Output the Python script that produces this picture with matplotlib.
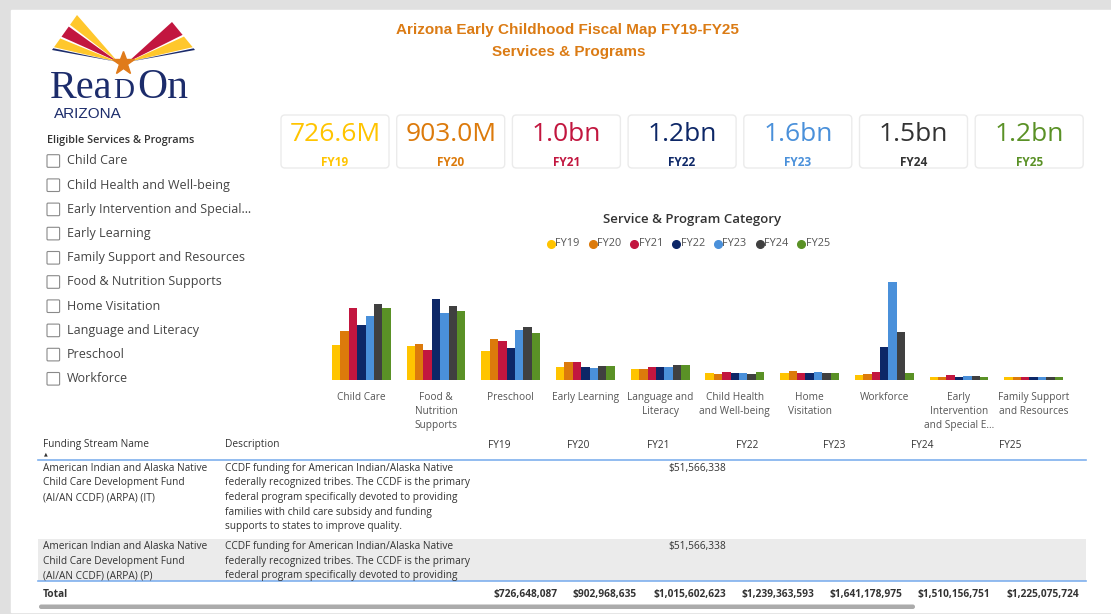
import matplotlib
matplotlib.use("Agg")
import matplotlib.pyplot as plt
from matplotlib.patches import Rectangle, FancyBboxPatch, Polygon
import numpy as np

plt.rcParams["font.family"] = ["Open Sans", "DejaVu Sans"]

# ---- data ----
categories = ["Child Care", "Food &\nNutrition\nSupports", "Preschool", "Early Learning",
              "Language and\nLiteracy", "Child Health\nand Well-being", "Home\nVisitation",
              "Workforce", "Early\nIntervention\nand Special E...", "Family Support\nand Resources"]
fy_labels = ["FY19", "FY20", "FY21", "FY22", "FY23", "FY24", "FY25"]
# spending by category, $ millions
fy19 = [176, 173, 149, 63, 56, 32, 31, 24, 15, 12]
fy20 = [248, 181, 207, 91, 55, 27, 43, 27, 15, 12]
fy21 = [369, 150, 200, 92, 63, 38, 34, 41, 22, 12]
fy22 = [279, 414, 161, 63, 65, 34, 32, 168, 12, 12]
fy23 = [325, 342, 255, 58, 63, 31, 36, 499, 17, 12]
fy24 = [390, 376, 270, 67, 74, 26, 31, 245, 19, 12]
fy25 = [368, 351, 239, 68, 74, 38, 31, 32, 15, 12]
series = [fy19, fy20, fy21, fy22, fy23, fy24, fy25]

totals = [726648087, 902968635, 1015602623, 1239363593, 1641178975, 1510156751, 1225075724]

slicer_items = ["Child Care", "Child Health and Well-being", "Early Intervention and Special\u2026",
                "Early Learning", "Family Support and Resources", "Food & Nutrition Supports",
                "Home Visitation", "Language and Literacy", "Preschool", "Workforce"]

row_names = ["American Indian and Alaska Native\nChild Care Development Fund\n(AI/AN CCDF) (ARPA) (IT)",
             "American Indian and Alaska Native\nChild Care Development Fund\n(AI/AN CCDF) (ARPA) (P)"]
row_desc = ["CCDF funding for American Indian/Alaska Native\nfederally recognized tribes. The CCDF is the primary\n"
            "federal program specifically devoted to providing\nfamilies with child care subsidy and funding\n"
            "supports to states to improve quality.",
            "CCDF funding for American Indian/Alaska Native\nfederally recognized tribes. The CCDF is the primary\n"
            "federal program specifically devoted to providing"]
row_fy21 = [51566338, 51566338]

bar_colors = ["#FFC400", "#DC7A0B", "#C2163F", "#0D2767", "#4A90DA", "#404040", "#5A9126"]
kpi_colors = ["#FFC400", "#DC7A0B", "#C2163F", "#0D2767", "#4A90DA", "#333333", "#5A9126"]
orange = "#DB7B14"
navy = "#1C2C6B"
text_dark = "#333333"

W, H = 1111, 614
fig = plt.figure(figsize=(W / 100, H / 100), dpi=100)

# background / layout axes in pixel coordinates
bg = fig.add_axes([0, 0, 1, 1])
bg.set_xlim(0, W)
bg.set_ylim(H, 0)
bg.axis("off")
bg.add_patch(Rectangle((0, 0), W, H, color="#E0E0E0", zorder=0))
bg.add_patch(Rectangle((11, 10), W - 11, 601.5, color="white", zorder=0))

# ---- logo ----
def wing(apex, p_top, p_bot, bands):
    p_top, p_bot = np.array(p_top), np.array(p_bot)
    for t0, t1, c in bands:
        a = p_top + (p_bot - p_top) * t0
        b = p_top + (p_bot - p_top) * t1
        bg.add_patch(Polygon([apex, a, b], closed=True, color=c, lw=0, zorder=2))

wing((118, 62), (77, 15), (52, 50), [(0, 0.28, "#FFC72C"), (0.33, 0.62, "#C2163F"),
                                     (0.67, 0.92, "#FFC72C"), (0.95, 1.0, navy)])
wing((128, 62), (172, 22), (195, 50), [(0, 0.46, "#C2163F"), (0.52, 0.9, "#FFC72C"),
                                      (0.94, 1.0, navy)])
bg.plot([123], [63], marker="*", markersize=17, color="#E07B1A", zorder=3)
bg.text(50, 98, "Rea", fontsize=29, family="Liberation Serif", color=navy, va="baseline", ha="left")
bg.text(113, 98, "D", fontsize=21, family="Liberation Serif", color=navy, va="baseline", ha="left")
bg.text(137, 98, "On", fontsize=30, family="Liberation Serif", color=navy, va="baseline", ha="left")
bg.text(54, 118.5, "ARIZONA", fontsize=11, family="Liberation Sans", color=navy, va="baseline", ha="left")

# ---- title ----
bg.text(567, 30, "Arizona Early Childhood Fiscal Map FY19-FY25", fontsize=11, fontweight="bold",
        family="Liberation Sans", color=orange, ha="center", va="center")
bg.text(569, 52, "Services & Programs", fontsize=11, fontweight="bold",
        family="Liberation Sans", color=orange, ha="center", va="center")

# ---- KPI cards ----
for i, (tot, lab) in enumerate(zip(totals, fy_labels)):
    x0 = 281 + i * 115.7
    bg.add_patch(FancyBboxPatch((x0, 115), 108, 53, boxstyle="round,pad=0,rounding_size=4",
                                facecolor="white", edgecolor="#EBEBEB", lw=1, zorder=1))
    txt = f"{tot / 1e6:.1f}M" if tot < 1e9 else f"{tot / 1e9:.1f}bn"
    bg.text(x0 + 54, 134.5, txt, fontsize=19, color=kpi_colors[i], ha="center", va="center")
    bg.text(x0 + 54, 162.5, lab, fontsize=8.5, fontweight="bold", color=kpi_colors[i],
            ha="center", va="center")

# ---- slicer ----
bg.text(47, 140, "Eligible Services & Programs", fontsize=7.8, fontweight="semibold",
        color=text_dark, ha="left", va="center")
for i, item in enumerate(slicer_items):
    yc = 161 + i * 24.2
    bg.add_patch(FancyBboxPatch((47, yc - 6.3), 12.6, 12.6, boxstyle="round,pad=0,rounding_size=1",
                                facecolor="white", edgecolor="#8A8A8A", lw=0.8))
    bg.text(67, yc, item, fontsize=9, color="#444444", ha="left", va="center")

# ---- chart ----
bg.text(692, 219, "Service & Program Category", fontsize=9.5, fontweight="semibold",
        color=text_dark, ha="center", va="center")
for i, lab in enumerate(fy_labels):
    cx = 551 + i * 41.7
    bg.plot([cx], [244], marker="o", markersize=5.5, color=bar_colors[i], lw=0)
    bg.text(cx + 4.5, 244, lab, fontsize=7.8, color="#555555", ha="left", va="center")

ax = fig.add_axes([324 / W, (H - 379.5) / H, 747 / W, 116.7 / H])
ax.patch.set_alpha(0)
x = np.arange(len(categories))
n = len(series)
bw = 0.786 / n
for i, vals in enumerate(series):
    ax.bar(x + (i - (n - 1) / 2) * bw, vals, width=bw, color=bar_colors[i], lw=0)
ax.set_xlim(-0.5, len(categories) - 0.5)
ax.set_ylim(0, 600)
ax.set_xticks(x)
ax.set_xticklabels(categories, fontsize=7.3, color="#555555", linespacing=1.35)
ax.tick_params(axis="x", length=0, pad=9)
ax.set_yticks([])
for s in ax.spines.values():
    s.set_visible(False)

# ---- table ----
fs = 7.3
bg.text(43, 445, "Funding Stream Name", fontsize=fs, color=text_dark, ha="left", va="center")
bg.text(46, 454, "\u25B2", fontsize=3.5, color=text_dark, family="DejaVu Sans", ha="center", va="center")
bg.text(225, 445, "Description", fontsize=fs, color=text_dark, ha="left", va="center")
col_left = [488, 567, 647, 736, 823, 911, 999]
col_right = [558, 637, 726, 814, 902, 990, 1079]
for lab, cl in zip(fy_labels, col_left):
    bg.text(cl, 445, lab, fontsize=fs, color=text_dark, ha="left", va="center")
bg.plot([38, 1086], [459.5, 459.5], color="#7FB0EE", lw=1.2)

bg.add_patch(Rectangle((38, 538.5), 1048, 42, color="#EBEBEB", lw=0, zorder=0.5))
row_tops = [468.5, 546.7]
for name, desc, val, y0 in zip(row_names, row_desc, row_fy21, row_tops):
    for k, line in enumerate(name.split("\n")):
        bg.text(43, y0 + k * 14.5, line, fontsize=fs, color=text_dark, ha="left", va="center")
    for k, line in enumerate(desc.split("\n")):
        bg.text(225, y0 + k * 14.5, line, fontsize=fs, color=text_dark, ha="left", va="center")
    bg.text(col_right[2], y0, f"${val:,}", fontsize=fs, color=text_dark, ha="right", va="center")
bg.plot([38, 1086], [581, 581], color="#7FB0EE", lw=1.2)

bg.text(43, 594.5, "Total", fontsize=fs, fontweight="bold", color=text_dark, ha="left", va="center")
for tot, cr in zip(totals, col_right):
    bg.text(cr, 594.5, f"${tot:,}", fontsize=fs, fontweight="bold", color=text_dark,
            ha="right", va="center")

bg.add_patch(FancyBboxPatch((39, 604.5), 876, 4.5, boxstyle="round,pad=0,rounding_size=2.2",
                            facecolor="#ABABAB", edgecolor="none"))

fig.savefig("out.png", dpi=100)
